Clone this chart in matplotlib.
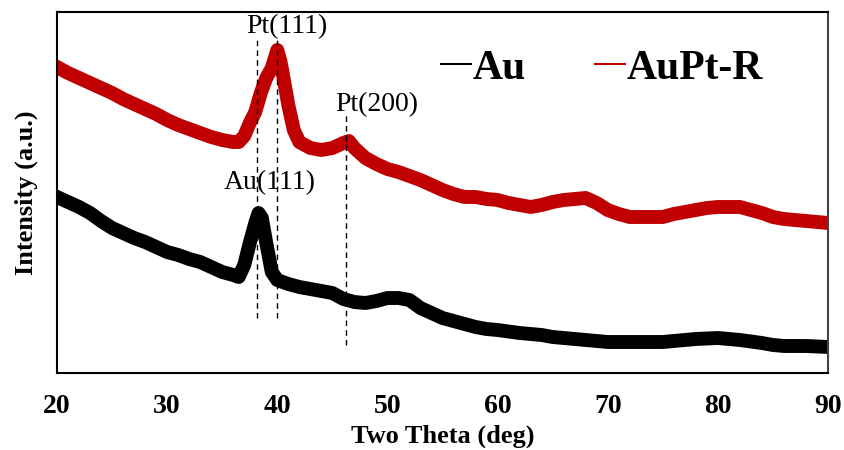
import matplotlib
matplotlib.use("Agg")
import matplotlib.pyplot as plt

# Two-theta positions (deg) and intensities (a.u.)
two_theta_au = [20, 21, 22, 23, 24, 25, 26, 27, 28, 29, 30, 31, 32, 33, 34, 35, 36, 36.5,
                37, 37.5, 38, 38.3, 38.6, 39, 39.5, 40, 41, 42, 43, 44, 45, 46, 47, 48, 49,
                50, 51, 52, 53, 54, 55, 56, 57, 58, 59, 60, 62, 64, 65, 66, 68, 70, 72, 74,
                75, 76, 78, 80, 82, 84, 85, 86, 88, 90]
intensity_au = [176, 171, 166, 160, 152, 145, 140, 135, 131, 126, 121, 118, 114, 111, 106, 101,
                98, 96, 108, 130, 150, 160, 155, 130, 101, 93, 89, 86, 84, 82, 80, 74, 71, 70,
                72, 75, 75, 73, 65, 60, 55, 52, 49, 46, 44, 43, 40, 38, 36, 35, 33, 31, 31, 31,
                31, 32, 34, 35, 33, 30, 28, 27, 27, 26]

two_theta_aupt = [20, 21, 22, 23, 24, 25, 26, 27, 28, 29, 30, 31, 32, 33, 34, 35, 36, 36.5,
                  37, 37.5, 38, 38.5, 39, 39.5, 40, 40.3, 40.6, 41, 41.5, 42, 43, 44, 45, 46,
                  46.5, 47, 48, 49, 50, 51, 52, 53, 54, 55, 56, 57, 58, 59, 60, 61, 62, 63, 64,
                  65, 66, 67, 68, 69, 70, 71, 72, 73, 74, 75, 76, 77, 78, 79, 80, 81, 82, 83,
                  84, 85, 86, 87, 88, 89, 90]
intensity_aupt = [306, 300, 295, 290, 285, 280, 274, 269, 264, 259, 253, 248, 244, 240, 236, 233,
                  231, 231, 237, 250, 261, 280, 295, 305, 323, 311, 293, 268, 243, 231, 225, 223,
                  225, 230, 232, 225, 215, 209, 204, 201, 197, 193, 188, 183, 179, 176, 176, 174,
                  173, 170, 168, 166, 168, 171, 173, 174, 175, 170, 163, 159, 156, 156, 156, 156,
                  159, 161, 163, 165, 166, 166, 166, 163, 160, 156, 154, 153, 152, 151, 150]

series_labels = ["Au", "AuPt-R"]
ref_lines = [38.2, 40.0, 46.2]
ref_labels = ["Au(111)", "Pt(111)", "Pt(200)"]
x_ticks = [20, 30, 40, 50, 60, 70, 80, 90]

plt.rcParams['font.family'] = ['Liberation Serif', 'DejaVu Serif']

fig = plt.figure(figsize=(8.44, 4.5), dpi=100)
ax = fig.add_axes([57/844, 1-373/450, (828-57)/844, (373-12)/450])

ax.plot(two_theta_au, intensity_au, color='black', lw=10, solid_joinstyle='round',
        label=series_labels[0])
ax.plot(two_theta_aupt, intensity_aupt, color='#c00000', lw=10, solid_joinstyle='round',
        label=series_labels[1])

# dashed reference lines (top, bottom in the same intensity units)
ref_spans = [(336, 55), (333, 55), (261, 28)]
for xr, (top, bot) in zip(ref_lines, ref_spans):
    ax.plot([xr, xr], [bot, top], color='black', lw=1, ls=(0, (4, 3)))

ax.text(39.3, 190, ref_labels[0], fontsize=20, ha='center', va='center')
ax.text(40.9, 346, ref_labels[1], fontsize=20, ha='center', va='center')
ax.text(49.0, 268, ref_labels[2], fontsize=20, ha='center', va='center')

ax.set_xlim(20, 90)
ax.set_ylim(0, 361)
ax.set_xticks(x_ticks)
ax.set_yticks([])
ax.tick_params(axis='x', length=0, pad=15, labelsize=20)
for lab in ax.get_xticklabels():
    lab.set_fontweight('bold')
for s in ax.spines.values():
    s.set_linewidth(1.5)
ax.spines['right'].set_color('#444444')

ax.set_xlabel("Two Theta (deg)", fontsize=19, fontweight='bold')
ax.xaxis.set_label_coords(0.5, -0.142)
ax.set_ylabel("Intensity (a.u.)", fontsize=19, fontweight='bold', labelpad=14)

leg = ax.legend(loc='center left', bbox_to_anchor=(420/844, 1-69/450),
                bbox_transform=fig.transFigure, ncol=2, frameon=False,
                handlelength=0.72, handletextpad=0.05, columnspacing=1.65, borderpad=0,
                prop={'size': 30, 'weight': 'bold'})
for h in leg.legend_handles:
    h.set_linewidth(1.5)

fig.savefig("out.png", dpi=100)
